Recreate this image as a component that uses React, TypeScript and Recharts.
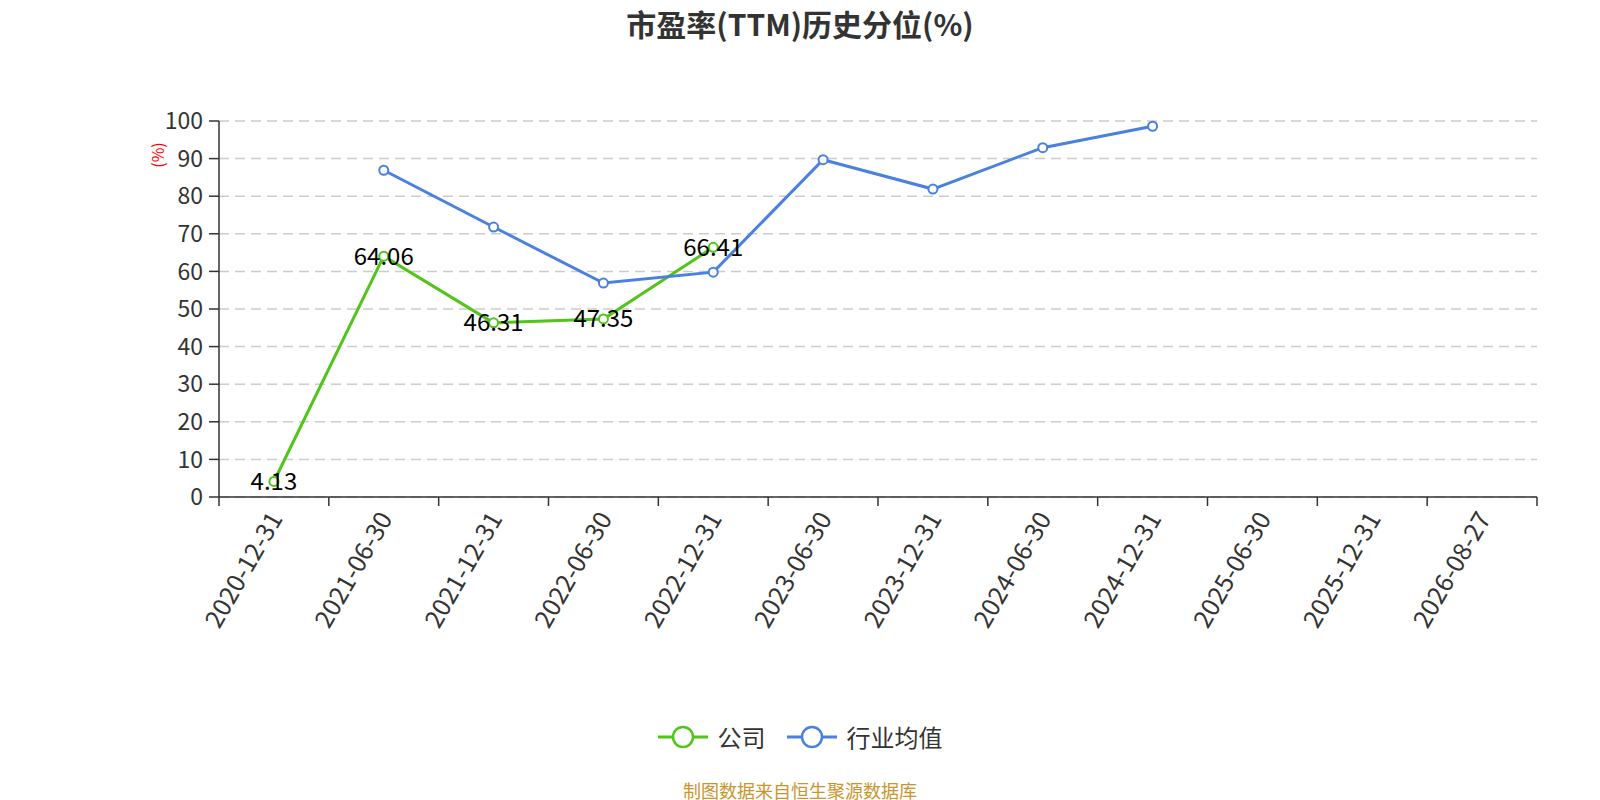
import React from "react";
import {
  CartesianGrid,
  Label,
  LabelList,
  Line,
  LineChart,
  XAxis,
  YAxis,
} from "recharts";

const categories = [
  "2020-12-31",
  "2021-06-30",
  "2021-12-31",
  "2022-06-30",
  "2022-12-31",
  "2023-06-30",
  "2023-12-31",
  "2024-06-30",
  "2024-12-31",
  "2025-06-30",
  "2025-12-31",
  "2026-08-27",
];
const companyValues = [4.13, 64.06, 46.31, 47.35, 66.41, null, null, null, null, null, null, null];
const industryValues = [null, 86.9, 71.8, 56.9, 59.8, 89.7, 81.9, 92.9, 98.6, null, null, null];
const yTicks = [0, 10, 20, 30, 40, 50, 60, 70, 80, 90, 100];
const seriesNames = ["公司", "行业均值"];
const seriesColors = ["#52c41a", "#4a80e0"];

const data = categories.map((date, i) => ({
  date,
  company: companyValues[i],
  industry: industryValues[i],
}));

const FONT = '"Noto Sans CJK SC", "Noto Sans", sans-serif';
const W = 1600;
const H = 800;
const plotLeft = 219;
const plotRight = 1537;
const plotTop = 121;
const plotBottom = 497;
const yAxisW = 80;
const xAxisH = 140;
// half of one category band, so points sit in the middle of their band
const halfBand = (plotRight - plotLeft) / categories.length / 2;

function XTick(props: any) {
  const { x, y, payload, index } = props;
  const last = index === categories.length - 1;
  return (
    <g>
      <line x1={x - halfBand} x2={x - halfBand} y1={y} y2={y + 9} stroke="#333" strokeWidth={1.5} />
      {last && <line x1={x + halfBand} x2={x + halfBand} y1={y} y2={y + 9} stroke="#333" strokeWidth={1.5} />}
      <text
        x={x}
        y={y + 16}
        transform={`rotate(-60 ${x} ${y + 16})`}
        textAnchor="end"
        dominantBaseline="central"
        fontSize={25}
        fill="#333"
        fontFamily={FONT}
      >
        {payload.value}
      </text>
    </g>
  );
}

function valueLabel(props: any) {
  const { x, y, value } = props;
  if (value == null || x == null || y == null) return null;
  return (
    <text x={x} y={y - 2} textAnchor="middle" dominantBaseline="central" fontSize={24} fill="#000" fontFamily={FONT}>
      {value}
    </text>
  );
}

function unitLabel(props: any) {
  const vb = props.viewBox || { x: 0, y: 0 };
  const cx = vb.x + 18;
  const cy = vb.y + 34;
  return (
    <text x={cx} y={cy} transform={`rotate(-90 ${cx} ${cy})`} textAnchor="middle" dominantBaseline="central" fontSize={16} fill="#ff0000" fontFamily={FONT}>
      (%)
    </text>
  );
}

function LegendIcon({ color }: { color: string }) {
  return (
    <svg width={50} height={24} style={{ display: "block" }}>
      <line x1={0} x2={50} y1={12} y2={12} stroke={color} strokeWidth={3} />
      <circle cx={25} cy={12} r={10} fill="#fff" stroke={color} strokeWidth={2.5} />
    </svg>
  );
}

export default function App() {
  return (
    <div style={{ position: "absolute", left: 0, top: 0, width: W, height: H, background: "#fff", fontFamily: FONT }}>
      <div
        style={{
          position: "absolute",
          left: 0,
          top: 3,
          width: W,
          textAlign: "center",
          fontSize: 30,
          fontWeight: "bold",
          color: "#333",
          lineHeight: "40px",
        }}
      >
        市盈率(TTM)历史分位(%)
      </div>
      <LineChart
        width={W}
        height={H}
        data={data}
        margin={{
          top: plotTop,
          right: W - plotRight,
          left: plotLeft - yAxisW,
          bottom: H - plotBottom - xAxisH,
        }}
      >
        <CartesianGrid vertical={false} stroke="#cccccc" strokeDasharray="10 6" strokeWidth={1.5} />
        <XAxis
          dataKey="date"
          interval={0}
          height={xAxisH}
          padding={{ left: halfBand, right: halfBand }}
          tickSize={0}
          tickMargin={0}
          tickLine={false}
          axisLine={{ stroke: "#333", strokeWidth: 1.5 }}
          tick={<XTick />}
        />
        <YAxis
          domain={[0, 100]}
          ticks={yTicks}
          interval={0}
          width={yAxisW}
          tickSize={10}
          tickMargin={6}
          axisLine={{ stroke: "#333", strokeWidth: 1.5 }}
          tickLine={{ stroke: "#333", strokeWidth: 1.5 }}
          tick={{ fontSize: 23, fill: "#333", fontFamily: FONT }}
        >
          <Label content={unitLabel} />
        </YAxis>
        <Line
          dataKey="company"
          name={seriesNames[0]}
          stroke={seriesColors[0]}
          strokeWidth={3}
          dot={{ r: 4.5, fill: "#fff", stroke: seriesColors[0], strokeWidth: 2 }}
          isAnimationActive={false}
        >
          <LabelList dataKey="company" content={valueLabel} />
        </Line>
        <Line
          dataKey="industry"
          name={seriesNames[1]}
          stroke={seriesColors[1]}
          strokeWidth={3}
          dot={{ r: 4.5, fill: "#fff", stroke: seriesColors[1], strokeWidth: 2 }}
          isAnimationActive={false}
        />
      </LineChart>
      <div
        style={{
          position: "absolute",
          left: 0,
          top: 722,
          width: W,
          display: "flex",
          justifyContent: "center",
          alignItems: "center",
          gap: 21,
        }}
      >
        {seriesNames.map((name, i) => (
          <div key={name} style={{ display: "flex", alignItems: "center", gap: 10 }}>
            <LegendIcon color={seriesColors[i]} />
            <span style={{ fontSize: 24, color: "#333", lineHeight: "30px" }}>{name}</span>
          </div>
        ))}
      </div>
      <div
        style={{
          position: "absolute",
          left: 0,
          top: 777,
          width: W,
          textAlign: "center",
          fontSize: 18,
          color: "#c8952c",
          lineHeight: "26px",
        }}
      >
        制图数据来自恒生聚源数据库
      </div>
    </div>
  );
}
